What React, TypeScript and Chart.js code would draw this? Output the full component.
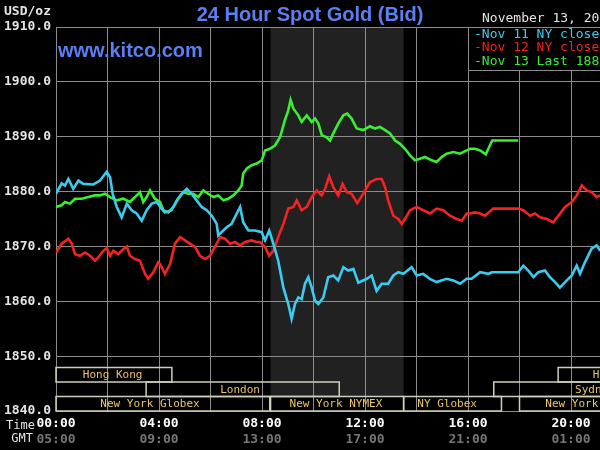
import React, { useEffect, useRef } from 'react';
import { Chart, registerables } from 'chart.js';

Chart.register(...registerables);

// ---- data (hours after 00:00 local time, price USD/oz) ----
const nov11Hours = [0.0, 0.22, 0.35, 0.48, 0.67, 0.87, 1.06, 1.45, 1.71, 1.97, 2.1, 2.2, 2.36, 2.55, 2.75, 2.94, 3.13, 3.33, 3.52, 3.72, 3.91, 4.1, 4.23, 4.49, 4.69, 4.88, 5.08, 5.27, 5.46, 5.66, 5.85, 6.05, 6.24, 6.3, 6.43, 6.63, 6.82, 7.02, 7.15, 7.27, 7.47, 7.73, 7.99, 8.12, 8.28, 8.44, 8.63, 8.83, 9.02, 9.15, 9.28, 9.41, 9.54, 9.67, 9.8, 9.93, 10.06, 10.19, 10.38, 10.57, 10.77, 10.96, 11.16, 11.35, 11.55, 11.74, 12.07, 12.26, 12.45, 12.65, 12.9, 13.1, 13.29, 13.49, 13.81, 14.01, 14.26, 14.52, 14.78, 15.17, 15.43, 15.69, 15.95, 16.14, 16.47, 16.79, 16.92, 17.95, 18.15, 18.34, 18.54, 18.73, 18.99, 19.18, 19.38, 19.57, 19.77, 20.03, 20.22, 20.35, 20.54, 20.8, 21.0, 21.13];
const nov11Values = [1879.6, 1881.5, 1881.1, 1882.3, 1880.5, 1882.0, 1881.4, 1881.3, 1882.0, 1883.6, 1882.6, 1879.6, 1877.2, 1875.3, 1877.8, 1876.6, 1876.0, 1874.7, 1876.6, 1877.8, 1878.1, 1876.9, 1876.2, 1876.6, 1878.4, 1879.6, 1880.5, 1879.6, 1878.4, 1877.2, 1876.6, 1875.6, 1874.1, 1872.0, 1872.6, 1873.5, 1874.1, 1876.0, 1877.2, 1874.4, 1872.9, 1872.9, 1872.6, 1871.1, 1872.9, 1870.5, 1867.4, 1862.5, 1859.5, 1856.8, 1859.5, 1860.7, 1860.4, 1863.2, 1864.4, 1862.5, 1860.1, 1859.5, 1860.7, 1864.4, 1864.7, 1863.8, 1866.2, 1865.6, 1865.9, 1863.4, 1864.1, 1864.7, 1861.9, 1863.2, 1863.2, 1864.7, 1865.3, 1865.0, 1866.2, 1864.7, 1865.0, 1864.1, 1863.5, 1864.1, 1863.8, 1863.2, 1864.1, 1864.1, 1865.3, 1865.0, 1865.3, 1865.3, 1866.5, 1865.6, 1864.4, 1865.3, 1865.6, 1864.4, 1863.5, 1862.5, 1863.5, 1864.7, 1866.5, 1865.0, 1867.1, 1869.6, 1870.2, 1869.2];

const nov12Hours = [0.0, 0.22, 0.48, 0.61, 0.74, 0.93, 1.13, 1.32, 1.51, 1.64, 1.84, 1.97, 2.1, 2.23, 2.42, 2.55, 2.75, 2.87, 3.07, 3.26, 3.46, 3.58, 3.78, 3.97, 4.04, 4.23, 4.43, 4.62, 4.82, 5.01, 5.2, 5.4, 5.59, 5.79, 5.98, 6.17, 6.37, 6.56, 6.76, 6.95, 7.15, 7.34, 7.6, 7.79, 7.92, 8.12, 8.28, 8.44, 8.63, 8.83, 9.02, 9.22, 9.35, 9.54, 9.74, 9.93, 10.12, 10.32, 10.45, 10.61, 10.77, 10.96, 11.13, 11.29, 11.48, 11.7, 11.93, 12.0, 12.19, 12.45, 12.65, 12.78, 12.9, 13.1, 13.29, 13.43, 13.55, 13.75, 14.01, 14.26, 14.52, 14.78, 15.04, 15.3, 15.56, 15.76, 15.95, 16.08, 16.27, 16.47, 16.66, 16.98, 17.95, 18.15, 18.41, 18.6, 18.8, 19.06, 19.31, 19.51, 19.77, 20.03, 20.22, 20.42, 20.61, 20.8, 21.0, 21.13];
const nov12Values = [1868.9, 1870.5, 1871.4, 1870.5, 1868.6, 1868.3, 1868.9, 1868.3, 1867.4, 1868.0, 1869.2, 1869.7, 1868.3, 1869.2, 1868.6, 1869.2, 1870.0, 1868.3, 1867.7, 1867.4, 1865.0, 1864.1, 1865.3, 1867.1, 1866.8, 1865.0, 1866.8, 1870.5, 1871.7, 1871.1, 1870.5, 1869.9, 1868.3, 1867.7, 1868.3, 1869.9, 1871.7, 1871.4, 1870.5, 1870.8, 1870.2, 1870.8, 1871.1, 1870.8, 1870.8, 1869.9, 1868.3, 1869.2, 1871.7, 1874.1, 1876.9, 1877.2, 1878.4, 1876.6, 1877.2, 1879.0, 1880.2, 1879.3, 1880.5, 1882.8, 1880.8, 1879.3, 1881.4, 1879.9, 1879.6, 1877.9, 1879.6, 1880.2, 1881.7, 1882.3, 1882.3, 1880.8, 1878.4, 1875.6, 1875.0, 1874.1, 1875.0, 1876.6, 1877.2, 1876.6, 1876.0, 1876.9, 1876.6, 1875.6, 1875.0, 1874.7, 1876.0, 1876.0, 1876.2, 1876.0, 1875.6, 1876.9, 1876.9, 1876.6, 1875.6, 1876.0, 1875.3, 1875.0, 1874.4, 1875.6, 1877.2, 1878.1, 1879.3, 1881.1, 1880.2, 1879.9, 1879.0, 1879.3];

const nov13Hours = [0.0, 0.22, 0.35, 0.54, 0.74, 1.0, 1.25, 1.51, 1.71, 1.9, 2.1, 2.36, 2.61, 2.87, 3.07, 3.26, 3.39, 3.52, 3.65, 3.84, 4.04, 4.17, 4.36, 4.56, 4.75, 4.94, 5.13, 5.33, 5.53, 5.72, 5.91, 6.11, 6.3, 6.5, 6.69, 6.89, 7.08, 7.21, 7.27, 7.41, 7.6, 7.79, 7.99, 8.12, 8.31, 8.5, 8.7, 8.89, 9.02, 9.11, 9.22, 9.41, 9.54, 9.74, 9.93, 10.06, 10.19, 10.32, 10.51, 10.64, 10.77, 10.96, 11.16, 11.31, 11.48, 11.68, 11.93, 12.19, 12.39, 12.58, 12.78, 12.97, 13.17, 13.36, 13.55, 13.75, 13.94, 14.14, 14.33, 14.59, 14.78, 14.98, 15.17, 15.43, 15.69, 15.95, 16.08, 16.27, 16.47, 16.69, 16.79, 16.94, 17.95];
const nov13Values = [1877.2, 1877.5, 1878.1, 1877.8, 1878.7, 1878.7, 1879.0, 1879.3, 1879.3, 1879.6, 1879.0, 1878.4, 1878.7, 1878.1, 1879.0, 1879.9, 1878.1, 1879.0, 1880.2, 1878.7, 1878.1, 1876.6, 1876.2, 1877.2, 1878.7, 1879.9, 1879.6, 1879.6, 1879.0, 1880.2, 1879.6, 1879.0, 1879.3, 1878.4, 1878.7, 1879.3, 1880.2, 1881.1, 1883.3, 1884.2, 1884.8, 1885.1, 1885.7, 1887.5, 1887.8, 1888.4, 1889.9, 1893.0, 1894.8, 1896.7, 1895.1, 1893.9, 1892.7, 1893.9, 1892.7, 1893.3, 1892.4, 1890.3, 1889.9, 1889.3, 1890.6, 1892.4, 1893.9, 1894.2, 1893.3, 1891.5, 1891.2, 1891.9, 1891.5, 1891.8, 1891.2, 1890.6, 1889.3, 1888.7, 1887.8, 1886.6, 1885.7, 1886.0, 1886.3, 1885.7, 1885.4, 1886.3, 1886.9, 1887.2, 1886.9, 1887.5, 1887.8, 1887.8, 1887.5, 1886.8, 1887.8, 1889.3, 1889.3];

const seriesLabels = ['Nov 11 NY close', 'Nov 12 NY close', 'Nov 13 Last 1889.30'];
const seriesColors = ['#3ccbf0', '#f42222', '#3aee33'];
const chartDate = 'November 13, 2020';

const yMin = 1840;
const yMax = 1910;
const yStep = 10;
const xMin = 0;
const xMax = 24;
const gmtOffset = 5;

const nymexShade = [8.333, 13.5];

const sessionNames = ['Hong Kong', 'London', 'New York Globex', 'New York NYMEX', 'NY Globex', 'New York Globex', 'Sydney', 'Hong Kong'];
const sessionStart = [-4, 3.5, -6, 8.333, 13.5, 18.0, 17.0, 19.5];
const sessionEnd = [4.5, 11.0, 8.3, 13.5, 17.3, 30.0, 26.0, 28.5];
const sessionRow = [0, 1, 2, 2, 2, 2, 1, 0];
const sessionLabelAt = [2.2, 7.15, 3.65, 10.87, 15.19, 20.93, 20.93, 22.0];

const pad2 = (n: number) => String(n).padStart(2, '0');

const kitcoChrome = {
  id: 'kitcoChrome',
  beforeDraw(chart: any) {
    const { ctx, chartArea: a, scales } = chart;
    const x = scales.x;
    ctx.save();
    ctx.fillStyle = '#000000';
    ctx.fillRect(0, 0, chart.width, chart.height);
    const rowH = 14.5;
    const s = x.getPixelForValue(nymexShade[0]);
    const e = x.getPixelForValue(nymexShade[1]);
    ctx.fillStyle = '#212121';
    ctx.fillRect(s, a.top, e - s, a.bottom - rowH - a.top);
    ctx.restore();
  },
  afterDraw(chart: any) {
    const { ctx, chartArea: a, scales } = chart;
    const x = scales.x;
    ctx.save();

    // trading session boxes
    const rowH = 14.5;
    ctx.lineWidth = 1.5;
    ctx.font = '11px "DejaVu Sans Mono", monospace';
    ctx.textAlign = 'center';
    ctx.textBaseline = 'middle';
    for (let i = 0; i < sessionNames.length; i++) {
      const x0 = x.getPixelForValue(Math.max(sessionStart[i], xMin));
      const x1 = x.getPixelForValue(Math.min(sessionEnd[i], xMax));
      const top = a.bottom - (3 - sessionRow[i]) * rowH;
      ctx.strokeStyle = '#cfcfb8';
      ctx.strokeRect(x0, top, x1 - x0, rowH);
      ctx.fillStyle = '#eac468';
      ctx.fillText(sessionNames[i], x.getPixelForValue(sessionLabelAt[i]), top + rowH / 2 + 0.5);
    }

    // legend box
    const lx = x.getPixelForValue(16);
    ctx.fillStyle = '#000000';
    ctx.fillRect(lx, a.top, chart.width - lx + 5, 70 - a.top);
    ctx.strokeStyle = '#8c8c8c';
    ctx.lineWidth = 1;
    ctx.strokeRect(lx + 0.5, a.top + 0.5, chart.width, 70 - a.top);
    ctx.textAlign = 'left';
    ctx.textBaseline = 'middle';
    ctx.font = '13px "DejaVu Sans Mono", monospace';
    const legendY = [34.5, 48, 62];
    for (let i = 0; i < seriesLabels.length; i++) {
      ctx.fillStyle = seriesColors[i];
      ctx.fillText('-' + seriesLabels[i], lx + 6, legendY[i]);
    }
    ctx.fillStyle = '#e4e4e4';
    ctx.fillText(chartDate, lx + 14, 19);

    // headings
    ctx.fillStyle = '#5b7ff0';
    ctx.font = 'bold 20px "Liberation Sans", Arial, sans-serif';
    ctx.textAlign = 'center';
    ctx.textBaseline = 'alphabetic';
    ctx.fillText('24 Hour Spot Gold (Bid)', 310, 21);
    ctx.textAlign = 'left';
    ctx.fillText('www.kitco.com', 58, 57);

    ctx.fillStyle = '#e4e4e4';
    ctx.font = 'bold 13px "DejaVu Sans Mono", monospace';
    ctx.textBaseline = 'middle';
    ctx.fillText('USD/oz', 4, 12);
    ctx.font = '12px "DejaVu Sans Mono", monospace';
    ctx.fillText('Time', 6, 426);
    ctx.textAlign = 'right';
    ctx.fillText('GMT', 33, 439);
    ctx.restore();
  },
};

export default function App() {
  const ref = useRef<HTMLCanvasElement | null>(null);
  useEffect(() => {
    if (!ref.current) return;
    const mk = (hs: number[], vs: number[]) => hs.map((h, i) => ({ x: h, y: vs[i] }));
    const grid = '#8c8c8c';
    const chart = new Chart(ref.current, {
      type: 'line',
      data: {
        datasets: [
          { label: seriesLabels[0], data: mk(nov11Hours, nov11Values), borderColor: seriesColors[0] },
          { label: seriesLabels[1], data: mk(nov12Hours, nov12Values), borderColor: seriesColors[1] },
          { label: seriesLabels[2], data: mk(nov13Hours, nov13Values), borderColor: seriesColors[2] },
        ].map((d) => ({ ...d, borderWidth: 2.6, pointRadius: 0, tension: 0, fill: false })),
      },
      options: {
        responsive: false,
        animation: false,
        events: [],
        layout: { padding: { top: 27, right: 26, bottom: 4, left: 0 } },
        plugins: { legend: { display: false }, tooltip: { enabled: false }, title: { display: false } },
        scales: {
          x: {
            type: 'linear',
            position: 'bottom',
            weight: 1,
            min: xMin,
            max: xMax,
            afterFit: (s: any) => { s.height = 20; },
            ticks: {
              stepSize: 2,
              autoSkip: false,
              maxRotation: 0,
              padding: 5,
              color: '#ffffff',
              font: { family: '"DejaVu Sans Mono", monospace', size: 13, weight: 'bold' },
              callback: (v: any) => (Number(v) % 4 === 0 ? pad2(Number(v)) + ':00' : ''),
            },
            grid: { color: grid, lineWidth: 1, drawTicks: false },
            border: { color: grid },
          },
          x2: {
            type: 'linear',
            position: 'bottom',
            weight: 2,
            min: xMin,
            max: xMax,
            afterFit: (s: any) => { s.height = 15; },
            ticks: {
              stepSize: 4,
              autoSkip: false,
              maxRotation: 0,
              padding: 1,
              color: '#767676',
              font: { family: '"DejaVu Sans Mono", monospace', size: 13, weight: 'bold' },
              callback: (v: any) => pad2((Number(v) + gmtOffset) % 24) + ':00',
            },
            grid: { display: false, drawTicks: false },
            border: { display: false },
          },
          y: {
            type: 'linear',
            position: 'left',
            min: yMin,
            max: yMax,
            afterFit: (s: any) => { s.width = 56; },
            ticks: {
              stepSize: yStep,
              padding: 5,
              color: '#e4e4e4',
              font: { family: '"DejaVu Sans Mono", monospace', size: 13, weight: 'bold' },
              callback: (v: any) => Number(v).toFixed(1),
            },
            grid: { color: grid, lineWidth: 1, drawTicks: false },
            border: { color: grid },
          },
        },
      },
      plugins: [kitcoChrome],
    } as any);
    return () => chart.destroy();
  }, []);
  return (
    <div style={{ position: 'fixed', left: 0, top: 0, width: 600, height: 450, overflow: 'hidden', background: '#000' }}>
      <canvas ref={ref} width={700} height={450} style={{ width: 700, height: 450, display: 'block' }} />
    </div>
  );
}
